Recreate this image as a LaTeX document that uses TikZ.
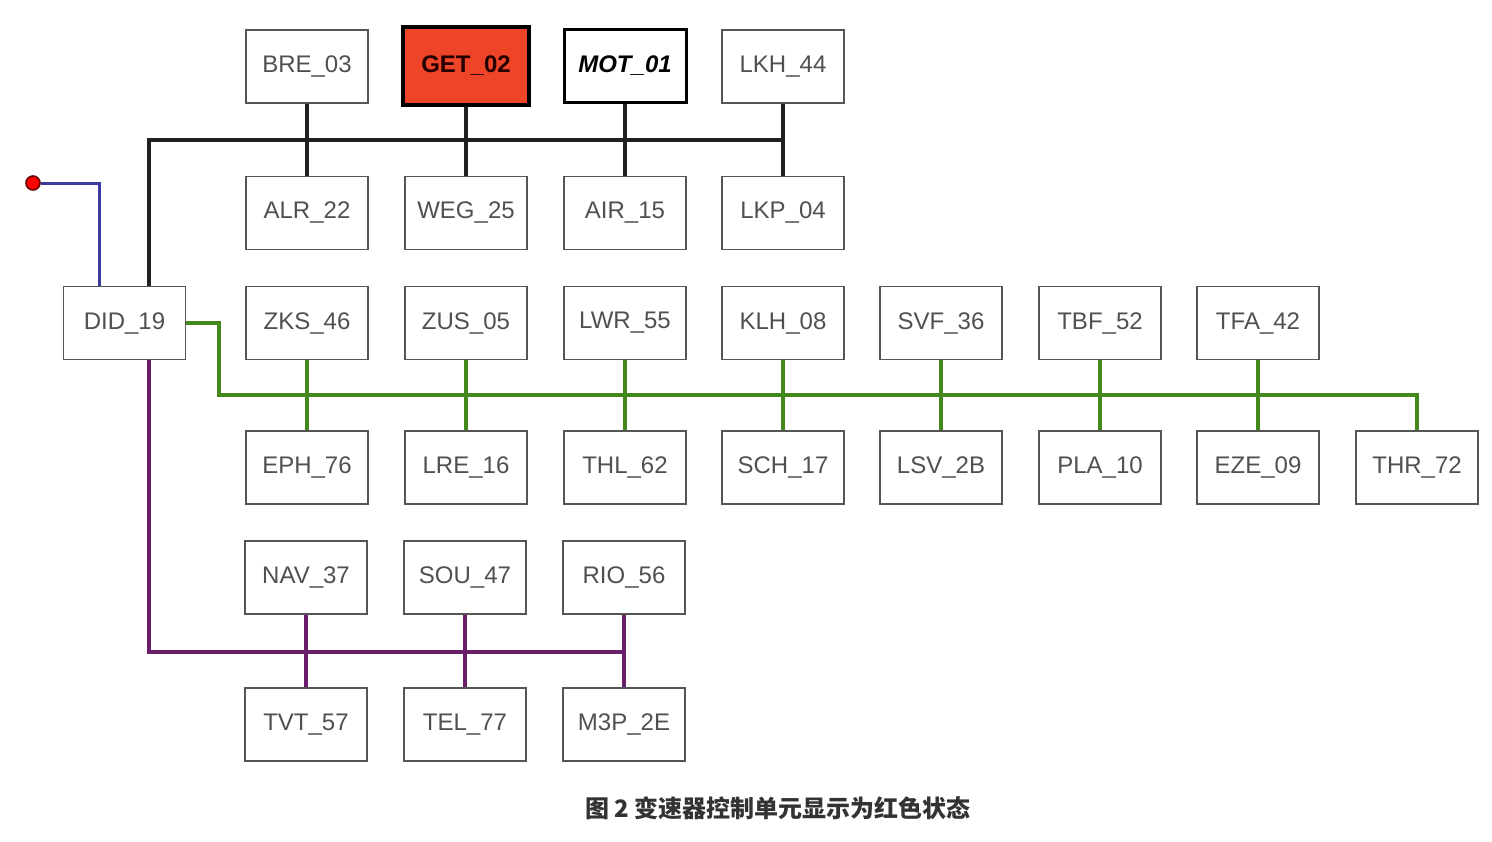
\documentclass[tikz,border=0pt]{standalone}
\usepackage{fontspec}
\setmainfont{Liberation Sans}
\newfontfamily\cjk{Noto Sans CJK SC}
\usetikzlibrary{positioning}
\definecolor{boxline}{RGB}{85,85,85}
\definecolor{boxtext}{RGB}{80,80,80}
\definecolor{getred}{RGB}{238,68,40}
\definecolor{kbuscol}{RGB}{32,32,32}
\definecolor{gbuscol}{RGB}{66,136,28}
\definecolor{pbuscol}{RGB}{104,30,104}
\definecolor{bbuscol}{RGB}{58,58,160}
\tikzset{
  ecu/.style={draw=boxline, line width=0.8pt, fill=white, minimum width=61pt,
    minimum height=36.5pt, inner sep=0pt, text=boxtext, font=\fontsize{12}{14}\selectfont},
  redecu/.style={ecu, draw=black, line width=2pt, fill=getred, text=black!85!red,
    minimum width=63pt, minimum height=39pt, font=\fontsize{12}{14}\selectfont\bfseries},
  boldecu/.style={ecu, draw=black, line width=1.5pt, text=black,
    font=\fontsize{12}{14}\selectfont\bfseries\itshape},
  kbus/.style={draw=kbuscol, line width=2pt},
  gbus/.style={draw=gbuscol, line width=2pt},
  pbus/.style={draw=pbuscol, line width=2pt},
  bbus/.style={draw=bbuscol, line width=1.5pt}
}
\begin{document}
\begin{tikzpicture}[x=0.5pt,y=-0.5pt]
  \useasboundingbox (0,0) rectangle (1492,841);
  % top rows, black bus
  \node[ecu] (BRE) at (307,66.5) {BRE\_03};
  \node[redecu] (GET) at (466,66) {GET\_02};
  \node[boldecu] (MOT) at (625,65.5) {MOT\_01};
  \node[ecu] (LKH) at (783,66.5) {LKH\_44};
  \node[ecu] (ALR) at (307,213) {ALR\_22};
  \node[ecu] (WEG) at (466,213) {WEG\_25};
  \node[ecu] (AIR) at (625,213) {AIR\_15};
  \node[ecu] (LKP) at (783,213) {LKP\_04};
  % gateway
  \node[ecu] (DID) at (124.5,323) {DID\_19};
  \node[circle, fill=red, draw=red!40!black, line width=0.8pt, inner sep=0pt,
    minimum size=7pt] (dot) at (33,183) {};
  % green bus rows
  \node[ecu] (ZKS) at (307,323) {ZKS\_46};
  \node[ecu] (ZUS) at (466,323) {ZUS\_05};
  \node[ecu] (LWR) at (625,323) {LWR\_55};
  \node[ecu] (KLH) at (783,323) {KLH\_08};
  \node[ecu] (SVF) at (941,323) {SVF\_36};
  \node[ecu] (TBF) at (1100,323) {TBF\_52};
  \node[ecu] (TFA) at (1258,323) {TFA\_42};
  \node[ecu] (EPH) at (307,467.5) {EPH\_76};
  \node[ecu] (LRE) at (466,467.5) {LRE\_16};
  \node[ecu] (THL) at (625,467.5) {THL\_62};
  \node[ecu] (SCH) at (783,467.5) {SCH\_17};
  \node[ecu] (LSV) at (941,467.5) {LSV\_2B};
  \node[ecu] (PLA) at (1100,467.5) {PLA\_10};
  \node[ecu] (EZE) at (1258,467.5) {EZE\_09};
  \node[ecu] (THR) at (1417,467.5) {THR\_72};
  % purple bus rows
  \node[ecu] (NAV) at (306,577.5) {NAV\_37};
  \node[ecu] (SOU) at (465,577.5) {SOU\_47};
  \node[ecu] (RIO) at (624,577.5) {RIO\_56};
  \node[ecu] (TVT) at (306,724.5) {TVT\_57};
  \node[ecu] (TEL) at (465,724.5) {TEL\_77};
  \node[ecu] (M3P) at (624,724.5) {M3P\_2E};
  \coordinate (kb) at (0,140);
  \coordinate (gb) at (219,395);
  \coordinate (pb) at (0,652);
  \draw[bbus] (dot) -| ([xshift=-12.75pt]DID.north);
  \draw[kbus] ([xshift=12.25pt]DID.north) |- (LKP.north |- kb);
  \draw[kbus] (BRE) -- (ALR) (GET) -- (WEG) (MOT) -- (AIR) (LKH) -- (LKP);
  \draw[gbus] (DID.east) -| (gb) -| (THR.north);
  \draw[gbus] (ZKS) -- (EPH) (ZUS) -- (LRE) (LWR) -- (THL) (KLH) -- (SCH)
    (SVF) -- (LSV) (TBF) -- (PLA) (TFA) -- (EZE);
  \draw[pbus] ([xshift=12.25pt]DID.south) |- (RIO.south |- pb);
  \draw[pbus] (NAV) -- (TVT) (SOU) -- (TEL) (RIO) -- (M3P);
  \node[font=\cjk\bfseries\fontsize{12}{14}\selectfont, text=black!80] (cap)
    at (778,808) {图 2 变速器控制单元显示为红色状态};
\end{tikzpicture}
\end{document}
